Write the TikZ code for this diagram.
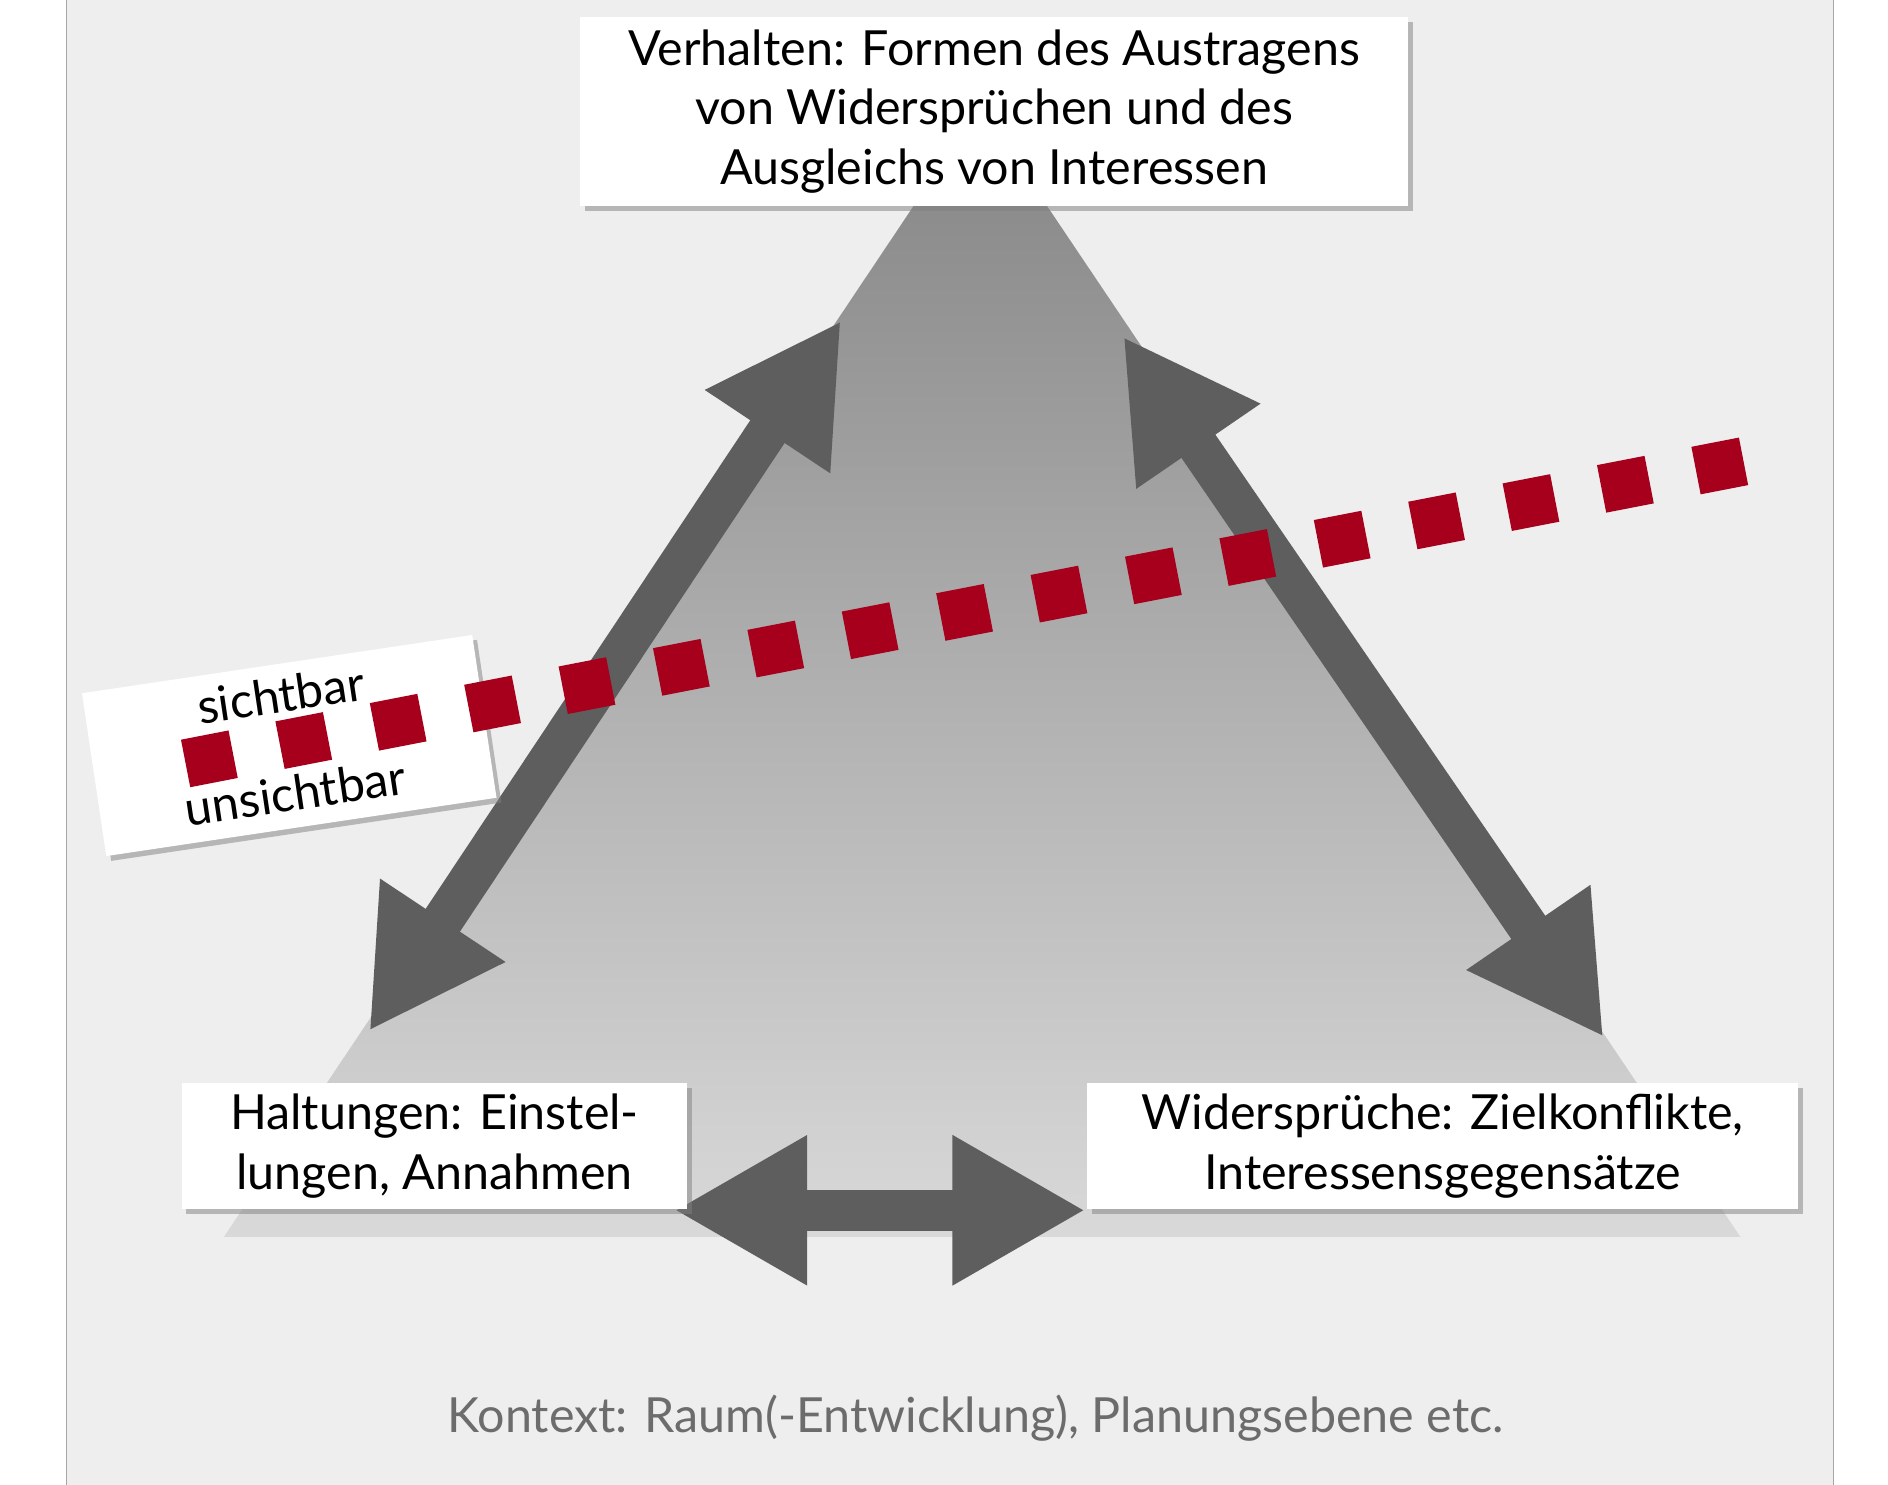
\documentclass[tikz,border=0pt]{standalone}
\usepackage{fontspec}
\setmainfont{Lato}
\usetikzlibrary{arrows.meta,shadows}
\definecolor{bg}{HTML}{EEEEEE}
\definecolor{arr}{HTML}{5E5E5E}
\definecolor{rd}{HTML}{A6001C}
\tikzset{
  lbl/.style={fill=white,align=center,font=\fontsize{20}{24.5}\selectfont,inner sep=0pt,drop shadow={shadow xshift=2pt,shadow yshift=-2pt,opacity=0.5}},
  bigarr/.style={arr,line width=17pt,{Triangle[length=55pt,width=58pt]}-{Triangle[length=55pt,width=58pt]}},
  sq/.style={fill=rd,minimum size=20pt,inner sep=0pt,rotate=11}
}
\begin{document}
\begin{tikzpicture}[x=0.5pt,y=-0.5pt]
\useasboundingbox (0,0) rectangle (1560,1227);
\fill[white] (0,0) rectangle (1560,1227);
\fill[bg] (55,0) rectangle (1515,1227);
\draw[gray!70,line width=0.6pt] (55,0)--(55,1227) (1515,0)--(1515,1227);
\shade[top color=gray!90,bottom color=gray!30] (755,170) -- (865,170) -- (1438,1022) -- (185,1022) -- cycle;
\coordinate (l1) at (695,265); \coordinate (l2) at (305,852);
\coordinate (r1) at (928,278); \coordinate (r2) at (1325,857);
\coordinate (b1) at (557,1000); \coordinate (b2) at (897,1000);
\draw[bigarr] (l1) -- (l2);
\draw[bigarr] (r1) -- (r2);
\draw[bigarr] (b1) -- (b2);
\node[lbl,minimum width=342pt,minimum height=78pt] (top) at (821.5,92) {Verhalten: Formen des Austragens\\von Widersprüchen und des\\Ausgleichs von Interessen};
\node[lbl,minimum width=209pt,minimum height=52pt] (hl) at (359,947) {Haltungen: Einstel-\\lungen, Annahmen};
\node[lbl,minimum width=294pt,minimum height=52pt] (wr) at (1192,947) {Widersprüche: Zielkonflikte,\\Interessensgegensätze};
\node[lbl,rotate=8.5,minimum width=163pt,minimum height=68pt] (vis) at (239,616) {};
\foreach \i in {0,...,16} {
  \node[sq] (s\i) at ({173+\i*78},{627-\i*15.125}) {};
}
\node[rotate=8.5,font=\fontsize{20}{24}\selectfont,anchor=center] (t1) at (232,574) {sichtbar};
\node[rotate=8.5,font=\fontsize{20}{24}\selectfont,anchor=center] (t2) at (244,655) {unsichtbar};
\node[font=\fontsize{20}{24}\selectfont,text=gray!85!black] (ctx) at (806,1172) {Kontext: Raum(-Entwicklung), Planungsebene etc.};
\end{tikzpicture}
\end{document}
